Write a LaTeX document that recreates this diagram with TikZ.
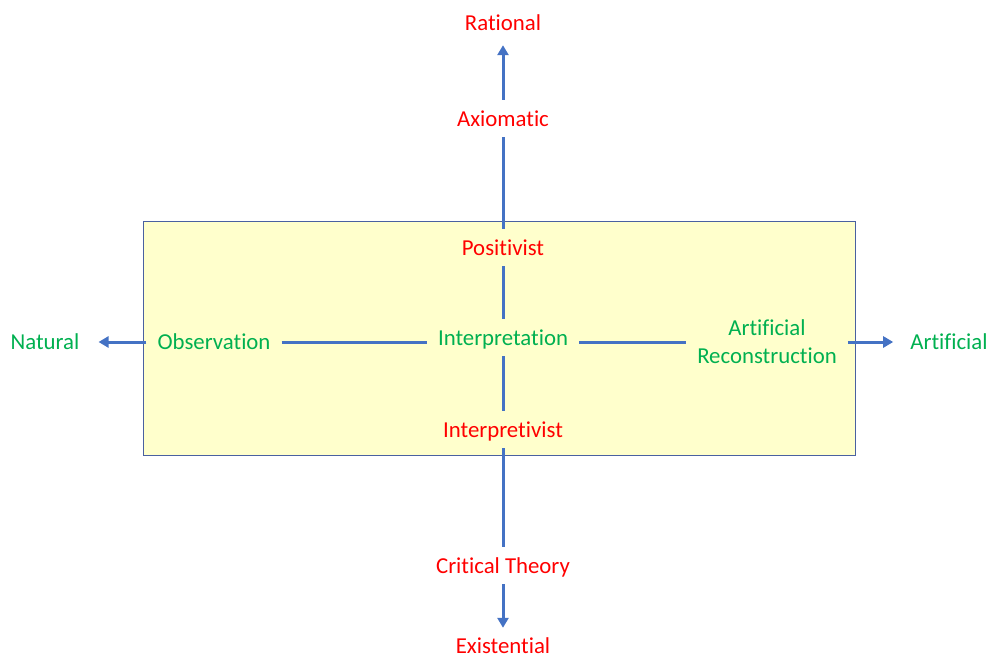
\documentclass[tikz,border=0pt]{standalone}
\usepackage{fontspec}
\setmainfont{Carlito}[Ligatures={NoCommon,NoDiscretionary,NoContextual}]
\usetikzlibrary{arrows.meta}
\definecolor{axisblue}{HTML}{4472C4}
\definecolor{boxedge}{HTML}{4A61A0}
\definecolor{boxfill}{HTML}{FFFFCC}
\definecolor{lblred}{HTML}{FF0000}
\definecolor{lblgreen}{HTML}{00B050}
\tikzset{
  lbl/.style={font=\fontsize{22.8}{28}\selectfont, inner sep=0pt, text height=15pt, text depth=0pt, anchor=base},
  redlbl/.style={lbl, text=lblred},
  greenlbl/.style={lbl, text=lblgreen},
  axisline/.style={draw=axisblue, line width=3pt, shorten <=11pt, shorten >=11pt},
  axisarrow/.style={axisline, -{Triangle[length=10pt,width=11pt]}, shorten >=15pt},
}
\begin{document}
\begin{tikzpicture}[x=1pt,y=-1pt]
  \useasboundingbox (0,0) rectangle (990,659);
  % central region
  \fill[boxfill, draw=boxedge, line width=1pt] (143,221) rectangle (855,455);

  % vertical axis labels
  \node[redlbl] (rational) at (503,30) {Rational};
  \node[redlbl] (axiomatic) at (503,126) {Axiomatic};
  \node[redlbl] (positivist) at (503,255) {Positivist};
  \node[greenlbl] (interp) at (503,345) {Interpretation};
  \node[redlbl] (interpretivist) at (503,437) {Interpretivist};
  \node[redlbl] (critical) at (503,573) {Critical Theory};
  \node[redlbl] (existential) at (503,653) {Existential};

  % horizontal axis labels
  \node[greenlbl] (natural) at (45,349) {Natural};
  \node[greenlbl] (observation) at (214,349) {Observation};
  \node[greenlbl, anchor=center, align=center, text height=, text depth=, font=\fontsize{22.8}{28}\selectfont] (artrec) at (767,342) {Artificial\\Reconstruction};
  \node[greenlbl] (artificial) at (949,349) {Artificial};
  \coordinate (hy) at (0,342);

  % vertical axis
  \draw[axisarrow] (axiomatic.north) -- (rational.south);
  \draw[axisline] (axiomatic.south) -- (positivist.north);
  \draw[axisline] (positivist.south) -- (interp.north);
  \draw[axisline] (interp.south) -- (interpretivist.north);
  \draw[axisline] (interpretivist.south) -- (critical.north);
  \draw[axisarrow, shorten >=10pt] (critical.south) -- (existential.north);

  % horizontal axis
  \draw[axisarrow, shorten >=19pt] (observation.west |- hy) -- (natural.east |- hy);
  \draw[axisline] (observation.east |- hy) -- (interp.west |- hy);
  \draw[axisline] (interp.east |- hy) -- (artrec.west |- hy);
  \draw[axisarrow, shorten >=17pt] (artrec.east |- hy) -- (artificial.west |- hy);
\end{tikzpicture}
\end{document}
